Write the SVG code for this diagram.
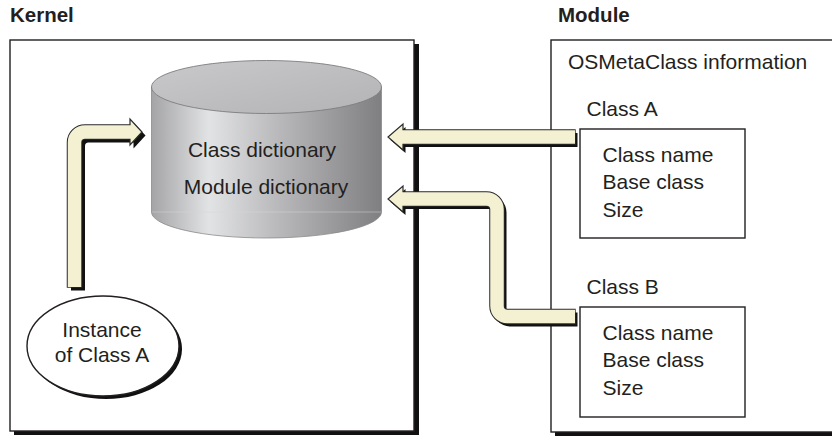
<svg xmlns="http://www.w3.org/2000/svg" width="832" height="436" viewBox="0 0 832 436">
<style>
text{font-family:"Liberation Sans",Arial,Helvetica,sans-serif;fill:#231f20;font-size:21px}
.title{font-weight:bold;font-size:20.5px}
.mid{text-anchor:middle}
.box{fill:#fff;stroke:#231f20;stroke-width:1.4}
.shadow{fill:#111}
.sh-shaft{fill:none;stroke:#111;stroke-width:14}
.ol-shaft{fill:none;stroke:#2a2a2a;stroke-width:15.5}
.fl-shaft{fill:none;stroke:#f4f1d3;stroke-width:13.5}
.sh-head{fill:#111}
.head{fill:#f4f1d3;stroke:#2a2a2a;stroke-width:1.2;stroke-linejoin:miter}
</style>
<defs>
<linearGradient id="side" x1="0" y1="0" x2="1" y2="0">
<stop offset="0" stop-color="#a4a4a6"/>
<stop offset="0.25" stop-color="#e2e3e5"/>
<stop offset="0.55" stop-color="#b9b9bb"/>
<stop offset="1" stop-color="#7f7f81"/>
</linearGradient>
<linearGradient id="topg" x1="0" y1="0" x2="1" y2="1">
<stop offset="0" stop-color="#c9c9cb"/>
<stop offset="1" stop-color="#b3b3b5"/>
</linearGradient>
</defs>

<g id="kernel">
<rect class="shadow" x="14" y="44" width="405" height="391"/>
<rect class="box" x="10" y="40" width="404" height="391"/>
<text class="title" x="10" y="21.5">Kernel</text>
</g>

<g id="module">
<rect class="shadow" x="555" y="44" width="300" height="392"/>
<rect class="box" x="551" y="40" width="300" height="392"/>
<text class="title" x="558" y="21.5">Module</text>
<text x="568" y="69">OSMetaClass information</text>
</g>

<g id="dictionary">
<path d="M151.5 87 L151.5 212 A115 26 0 0 0 381.5 212 L381.5 87 Z" fill="url(#side)" stroke="#8a8a8c" stroke-width="0.8"/>
<line x1="152" y1="212" x2="381" y2="212" stroke="#d8d8da" stroke-width="0.8" opacity="0.6"/>
<ellipse cx="266.5" cy="87" rx="115" ry="26.5" fill="url(#topg)" stroke="#7d7d7f" stroke-width="0.9"/>
<text class="mid" x="262" y="157">Class dictionary</text>
<text class="mid" x="266" y="194">Module dictionary</text>
</g>

<g id="instance">
<ellipse cx="106" cy="349" rx="76" ry="50" fill="#111"/>
<ellipse cx="103" cy="346" rx="76" ry="50" fill="#fff" stroke="#231f20" stroke-width="1.4"/>
<text class="mid" x="102" y="337">Instance</text>
<text class="mid" x="102" y="362">of Class A</text>
</g>

<g id="classA">
<text x="586.5" y="116">Class A</text>
<rect class="box" x="580" y="129" width="165" height="109"/>
<text x="602.5" y="162">Class name</text>
<text x="602.5" y="189">Base class</text>
<text x="602.5" y="216.5">Size</text>
</g>

<g id="classB">
<text x="586.5" y="294">Class B</text>
<rect class="box" x="580" y="307" width="165" height="110"/>
<text x="602.5" y="340">Class name</text>
<text x="602.5" y="367">Base class</text>
<text x="602.5" y="395">Size</text>
</g>

<g id="connectors">
<!-- Arrow 1: instance to dictionary -->
<g transform="translate(3.5,3.5)">
<path class="sh-shaft" d="M74.5 287 L74.5 142.5 A10.5 10.5 0 0 1 85 132 L131 132"/>
<polygon class="sh-head" points="130,119 142,132 130,145"/>
</g>
<path class="ol-shaft" d="M74.5 287.7 L74.5 142.5 A10.5 10.5 0 0 1 85 132 L130 132"/>
<polygon class="head" points="130,125 130,119 142,132 130,145 130,139"/>
<path class="fl-shaft" d="M74.5 287 L74.5 142.5 A10.5 10.5 0 0 1 85 132 L131 132"/>

<!-- Arrow 2: Class A to dictionary -->
<g transform="translate(2.5,3)">
<path class="sh-shaft" d="M575 137 L402 137"/>
<polygon class="sh-head" points="403,124 388,137 403,150"/>
</g>
<path class="ol-shaft" d="M575.7 137 L403 137"/>
<polygon class="head" points="403,130 403,124 388,137 403,150 403,144"/>
<path class="fl-shaft" d="M575 137 L402 137"/>

<!-- Arrow 3: Class B to dictionary -->
<g transform="translate(2.5,3)">
<path class="sh-shaft" d="M575 316.5 L507.5 316.5 A10.5 10.5 0 0 1 497 306 L497 209.5 A10.5 10.5 0 0 0 486.5 199 L402 199"/>
<polygon class="sh-head" points="403,186 388,199 403,212"/>
</g>
<path class="ol-shaft" d="M575.7 316.5 L507.5 316.5 A10.5 10.5 0 0 1 497 306 L497 209.5 A10.5 10.5 0 0 0 486.5 199 L403 199"/>
<polygon class="head" points="403,192 403,186 388,199 403,212 403,206"/>
<path class="fl-shaft" d="M575 316.5 L507.5 316.5 A10.5 10.5 0 0 1 497 306 L497 209.5 A10.5 10.5 0 0 0 486.5 199 L402 199"/>
</g>
</svg>
